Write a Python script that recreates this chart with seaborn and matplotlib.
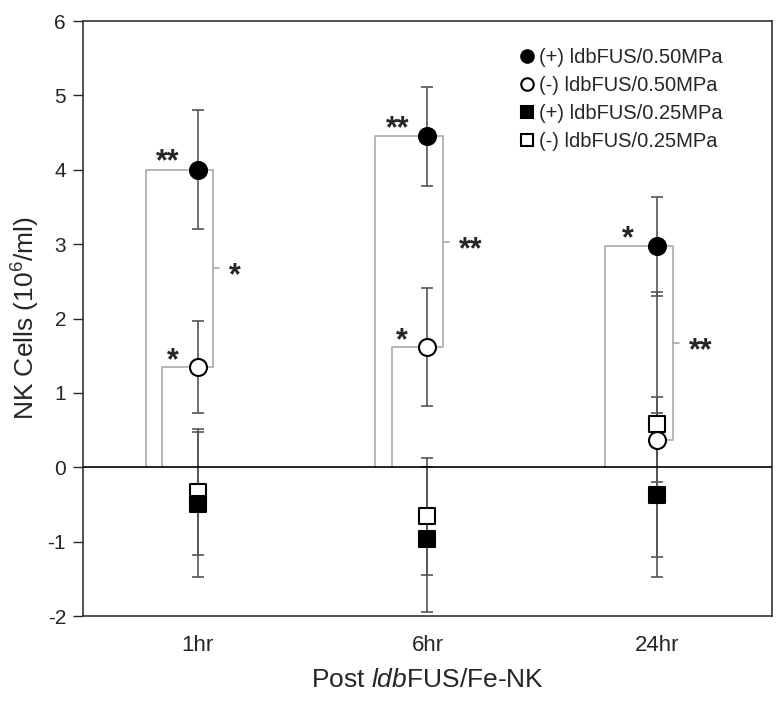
import numpy as np
import pandas as pd
import seaborn as sns
import matplotlib.pyplot as plt
from matplotlib.lines import Line2D

# values
times = ['1hr', '6hr', '24hr']
series = ['(+) ldbFUS/0.50MPa', '(-) ldbFUS/0.50MPa',
          '(+) ldbFUS/0.25MPa', '(-) ldbFUS/0.25MPa']
plus_050 = [4.00, 4.45, 2.97]
plus_050_err = [0.80, 0.67, 0.66]
minus_050 = [1.35, 1.62, 0.37]
minus_050_err = [0.62, 0.79, 0.57]
plus_025 = [-0.50, -0.97, -0.37]
plus_025_err = [0.98, 0.97, 1.10]
minus_025 = [-0.33, -0.66, 0.58]
minus_025_err = [0.85, 0.79, 1.78]

# significance marks for each time point
left_top_stars = ['**', '**', '*']      # (+)0.50 vs baseline
left_low_stars = ['*', '*', None]       # (-)0.50 vs baseline
right_stars = ['*', '**', '**']         # (+)0.50 vs (-)0.50

rows = []
for name, vals, errs in [(series[0], plus_050, plus_050_err),
                         (series[1], minus_050, minus_050_err),
                         (series[2], plus_025, plus_025_err),
                         (series[3], minus_025, minus_025_err)]:
    for i, t in enumerate(times):
        rows.append({'time': t, 'x': i, 'group': name, 'value': vals[i], 'err': errs[i]})
df = pd.DataFrame(rows)

sns.set_style('ticks')
plt.rcParams['font.family'] = ['Liberation Sans', 'DejaVu Sans']
plt.rcParams['mathtext.fontset'] = 'custom'
plt.rcParams['mathtext.rm'] = 'Liberation Sans'
plt.rcParams['mathtext.it'] = 'Liberation Sans:italic'
plt.rcParams['axes.unicode_minus'] = False

fig = plt.figure(figsize=(7.8, 7.04), dpi=100)
ax = fig.add_axes([0.106, 0.125, 0.884, 0.845])

# error bars first, under the markers
ax.errorbar(df['x'], df['value'], yerr=df['err'], fmt='none',
            ecolor='#555555', elinewidth=1.2, capsize=4.3, capthick=1.2, zorder=2)

styles = {
    series[0]: dict(marker='o', facecolor='black', s=150),
    series[1]: dict(marker='o', facecolor='white', s=150),
    series[3]: dict(marker='s', facecolor='white', s=130),
    series[2]: dict(marker='s', facecolor='black', s=130),
}
for name, st in styles.items():
    sub = df[df['group'] == name]
    sns.scatterplot(data=sub, x='x', y='value', ax=ax, marker=st['marker'],
                    color=st['facecolor'], edgecolor='black', linewidth=1.5,
                    s=st['s'], zorder=4, legend=False)

ax.axhline(0, color='black', lw=1.2, zorder=3)

# significance brackets
gray = '#b0b0b0'
star_kw = dict(ha='center', va='baseline', fontsize=22, fontweight='bold')
for i in range(len(times)):
    top = plus_050[i]
    low = minus_050[i]
    ax.plot([i - 0.04, i - 0.226, i - 0.226], [top, top, 0], color=gray, lw=1.3, zorder=1)
    ax.text(i - 0.13, top - 0.01, left_top_stars[i], **star_kw)
    if left_low_stars[i]:
        ax.plot([i - 0.04, i - 0.155, i - 0.155], [low, low, 0], color=gray, lw=1.3, zorder=1)
        ax.text(i - 0.11, low - 0.03, left_low_stars[i], **star_kw)
    ax.plot([i + 0.035, i + 0.068, i + 0.068, i + 0.035], [top, top, low, low],
            color=gray, lw=1.3, zorder=1)
    mid = (top + low) / 2
    ax.plot([i + 0.068, i + 0.095], [mid, mid], color=gray, lw=1.3, zorder=1)
    ax.text(i + 0.19 if len(right_stars[i]) > 1 else i + 0.16, mid - 0.22, right_stars[i],
            **star_kw)

ax.set_xlim(-0.5, 2.5)
ax.set_ylim(-2, 6)
ax.set_yticks(range(-2, 7))
ax.set_xticks(range(len(times)))
ax.set_xticklabels(times, fontsize=16)
ax.tick_params(axis='x', length=0, pad=14)
ax.tick_params(axis='y', labelsize=15, length=7, width=1, direction='out', pad=5)
for sp in ax.spines.values():
    sp.set_linewidth(1.2)
    sp.set_color('#333333')

ax.set_xlabel(r'Post $\mathit{ldb}$FUS/Fe-NK', fontsize=19, labelpad=8)
ax.set_ylabel(r'NK Cells (10$^{6}$/ml)', fontsize=19, labelpad=4)

handles = [
    Line2D([], [], ls='none', marker='o', mfc='black', mec='black', ms=9, mew=1.5),
    Line2D([], [], ls='none', marker='o', mfc='white', mec='black', ms=9, mew=1.5),
    Line2D([], [], ls='none', marker='s', mfc='black', mec='black', ms=9, mew=1.5),
    Line2D([], [], ls='none', marker='s', mfc='white', mec='black', ms=9, mew=1.5),
]
ax.legend(handles, series, loc='upper right', bbox_to_anchor=(0.955, 0.985),
          frameon=False, fontsize=14.5, handlelength=0.8, handletextpad=0.2,
          labelspacing=0.45)

fig.savefig('out.png', dpi=100)
